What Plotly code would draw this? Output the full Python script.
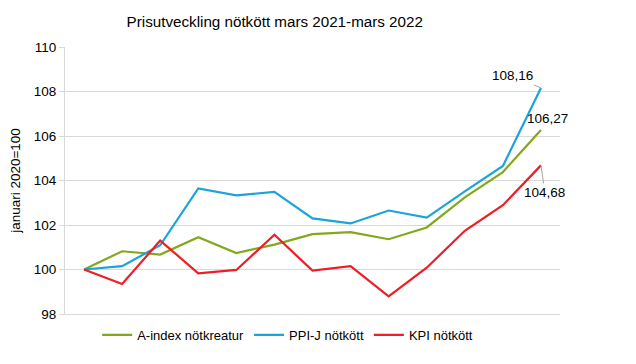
import plotly.graph_objects as go

months = ["mar 2021", "apr 2021", "maj 2021", "jun 2021", "jul 2021", "aug 2021", "sep 2021",
          "okt 2021", "nov 2021", "dec 2021", "jan 2022", "feb 2022", "mar 2022"]
a_index = [100, 100.82, 100.67, 101.45, 100.74, 101.12, 101.59, 101.68, 101.36, 101.89, 103.24, 104.38, 106.27]
ppi_j = [100, 100.15, 101.09, 103.64, 103.33, 103.49, 102.30, 102.07, 102.65, 102.33, 103.51, 104.65, 108.16]
kpi = [100, 99.35, 101.30, 99.83, 99.98, 101.56, 99.95, 100.15, 98.79, 100.08, 101.74, 102.89, 104.68]
y_ticks = [98, 100, 102, 104, 106, 108, 110]

FONT = "Liberation Sans, Arial, sans-serif"
series = [("A-index nötkreatur", a_index, "#82A81C"),
          ("PPI-J nötkött", ppi_j, "#1BA3DC"),
          ("KPI nötkött", kpi, "#EE1D26")]

fig = go.Figure()
for name, vals, col in series:
    fig.add_trace(go.Scatter(x=months, y=vals, mode="lines", name=name,
                             line=dict(color=col, width=2.2)))

def fmt(v):
    return f"{v:.2f}".replace(".", ",")

fig.add_annotation(x=months[-1], y=ppi_j[-1], text=fmt(ppi_j[-1]), showarrow=True,
                   arrowhead=0, arrowcolor="#A6A6A6", arrowwidth=1, ax=-28, ay=-12,
                   font=dict(size=13.5, color="#000"))
fig.add_annotation(x=months[-1], y=a_index[-1], text=fmt(a_index[-1]), showarrow=False,
                   xshift=7, yshift=11, font=dict(size=13.5, color="#000"))
fig.add_annotation(x=months[-1], y=kpi[-1], text=fmt(kpi[-1]), showarrow=True,
                   arrowhead=0, arrowcolor="#A6A6A6", arrowwidth=1, ax=4, ay=27,
                   font=dict(size=13.5, color="#000"))

fig.update_layout(
    width=636, height=364,
    margin=dict(l=65, r=76, t=47, b=50, autoexpand=False),
    paper_bgcolor="white", plot_bgcolor="white",
    font=dict(family=FONT, size=13.5, color="#000"),
    title=dict(text="Prisutveckling nötkött mars 2021-mars 2022", x=0.432, xanchor="center",
               y=0.94, yanchor="middle", font=dict(size=15.2, color="#000")),
    showlegend=True,
    legend=dict(orientation="h", x=0.065, xanchor="left", y=-0.022, yanchor="top",
                font=dict(size=13), itemwidth=30, bgcolor="rgba(0,0,0,0)"),
    xaxis=dict(type="category", range=[-0.5, 12.5], showticklabels=False, ticks="",
               showgrid=False, showline=True, linecolor="#D9D9D9", linewidth=1, zeroline=False,
               automargin=False),
    yaxis=dict(range=[98, 110], tickvals=y_ticks, ticktext=[str(t) for t in y_ticks],
               showgrid=True, gridcolor="#D9D9D9", gridwidth=1, showline=True,
               linecolor="#D9D9D9", ticks="outside", ticklen=5, tickcolor="#D9D9D9",
               zeroline=False, automargin=False,
               title=dict(text="januari 2020=100", font=dict(size=13.5), standoff=10)),
)

fig.write_html("out.html", config={"displayModeBar": False},
               post_script="document.body.style.margin='0px';")
